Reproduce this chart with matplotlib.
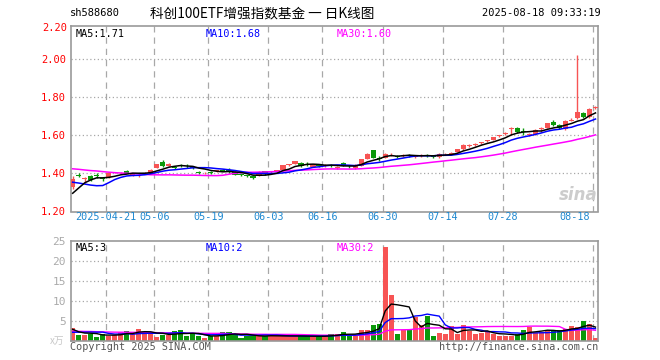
import matplotlib
matplotlib.use('Agg')
import matplotlib.pyplot as plt
import matplotlib.transforms as mtransforms
import numpy as np
import pandas as pd

# daily candles, 2025-04-11 .. 2025-08-18 (88 trading days)
open_ = [1.33, 1.392, 1.372, 1.385, 1.39, 1.375, 1.38, 1.402, 1.40, 1.415,
         1.39, 1.395, 1.40, 1.40, 1.43, 1.458, 1.44, 1.435, 1.445, 1.44,
         1.435, 1.408, 1.40, 1.407, 1.412, 1.42, 1.418, 1.41, 1.393, 1.388,
         1.387, 1.387, 1.413, 1.408, 1.413, 1.418, 1.445, 1.45, 1.455, 1.448,
         1.435, 1.442, 1.44, 1.443, 1.43, 1.457, 1.44, 1.427, 1.44, 1.476,
         1.524, 1.482, 1.483, 1.50, 1.492, 1.49, 1.497, 1.485, 1.493, 1.497,
         1.49, 1.485, 1.50, 1.503, 1.515, 1.527, 1.545, 1.552, 1.56, 1.569,
         1.576, 1.597, 1.608, 1.636, 1.64, 1.622, 1.60, 1.606, 1.636, 1.641,
         1.673, 1.655, 1.633, 1.678, 1.69, 1.72, 1.696, 1.747]
high = [1.385, 1.40, 1.38, 1.39, 1.405, 1.38, 1.405, 1.41, 1.408, 1.418,
        1.40, 1.402, 1.41, 1.425, 1.452, 1.47, 1.455, 1.44, 1.45, 1.45,
        1.44, 1.415, 1.41, 1.412, 1.42, 1.425, 1.428, 1.412, 1.395, 1.39,
        1.39, 1.412, 1.415, 1.415, 1.42, 1.447, 1.452, 1.468, 1.458, 1.458,
        1.452, 1.45, 1.45, 1.45, 1.44, 1.46, 1.445, 1.448, 1.478, 1.506,
        1.526, 1.49, 1.51, 1.506, 1.495, 1.50, 1.503, 1.497, 1.50, 1.505,
        1.495, 1.508, 1.507, 1.512, 1.53, 1.553, 1.553, 1.558, 1.568, 1.578,
        1.593, 1.605, 1.617, 1.642, 1.642, 1.64, 1.615, 1.632, 1.642, 1.666,
        1.68, 1.658, 1.68, 1.69, 2.024, 1.722, 1.742, 1.755]
low = [1.32, 1.38, 1.35, 1.36, 1.375, 1.36, 1.375, 1.40, 1.398, 1.40,
       1.385, 1.38, 1.395, 1.398, 1.428, 1.435, 1.438, 1.425, 1.435, 1.43,
       1.425, 1.395, 1.395, 1.395, 1.41, 1.412, 1.405, 1.39, 1.385, 1.38,
       1.372, 1.385, 1.392, 1.405, 1.41, 1.415, 1.44, 1.448, 1.435, 1.44,
       1.432, 1.432, 1.435, 1.435, 1.425, 1.438, 1.43, 1.425, 1.438, 1.474,
       1.48, 1.465, 1.48, 1.49, 1.483, 1.487, 1.487, 1.48, 1.488, 1.487,
       1.482, 1.482, 1.498, 1.50, 1.512, 1.525, 1.54, 1.545, 1.556, 1.565,
       1.574, 1.592, 1.60, 1.605, 1.615, 1.605, 1.598, 1.604, 1.62, 1.64,
       1.65, 1.635, 1.628, 1.675, 1.685, 1.69, 1.692, 1.74]
close_ = [1.37, 1.388, 1.376, 1.366, 1.386, 1.37, 1.40, 1.405, 1.404, 1.405,
          1.395, 1.398, 1.405, 1.42, 1.45, 1.44, 1.45, 1.43, 1.44, 1.437,
          1.43, 1.405, 1.405, 1.403, 1.416, 1.415, 1.414, 1.392, 1.39, 1.385,
          1.376, 1.41, 1.395, 1.41, 1.416, 1.445, 1.448, 1.465, 1.438, 1.445,
          1.45, 1.44, 1.445, 1.44, 1.435, 1.44, 1.437, 1.445, 1.476, 1.504,
          1.483, 1.478, 1.504, 1.503, 1.487, 1.495, 1.493, 1.494, 1.496, 1.493,
          1.488, 1.505, 1.503, 1.508, 1.527, 1.55, 1.548, 1.555, 1.564, 1.573,
          1.59, 1.60, 1.612, 1.64, 1.62, 1.619, 1.61, 1.629, 1.64, 1.664,
          1.655, 1.638, 1.676, 1.682, 1.725, 1.696, 1.74, 1.75]
# volume, 10k
volume = [3.25, 1.4, 1.4, 1.8, 1.0, 1.6, 1.2, 1.4, 2.2, 2.5,
          1.7, 2.9, 2.0, 2.0, 1.0, 1.4, 1.4, 2.4, 2.7, 1.1,
          1.7, 1.1, 0.7, 1.3, 1.2, 2.2, 2.2, 1.5, 0.8, 1.3,
          1.3, 1.2, 1.2, 1.2, 1.2, 1.2, 1.2, 1.2, 1.1, 1.1,
          1.1, 1.1, 1.2, 1.6, 1.8, 2.2, 1.3, 1.3, 2.7, 2.7,
          3.9, 4.3, 23.5, 11.4, 1.8, 2.6, 2.9, 6.0, 3.9, 6.2,
          1.3, 1.9, 1.6, 3.6, 1.8, 3.9, 2.5, 1.6, 1.9, 2.4,
          1.6, 1.2, 1.3, 1.3, 1.6, 2.7, 3.5, 2.0, 2.2, 2.7,
          2.5, 2.7, 3.0, 3.7, 3.5, 4.9, 4.3, 0.6]

# sessions before the visible window (feed the moving averages)
prior_close = [1.47, 1.48, 1.46, 1.45, 1.47, 1.49, 1.48, 1.46, 1.45, 1.44,
               1.46, 1.47, 1.48, 1.46, 1.45, 1.44, 1.45, 1.46, 1.45, 1.43,
               1.43, 1.43, 1.42, 1.42, 1.36, 1.25, 1.24, 1.29, 1.33]
prior_volume = [2.6, 2.5, 2.4, 2.7, 2.6, 2.5, 2.4, 2.6, 2.5, 2.7,
                2.6, 2.5, 2.4, 2.6, 2.5, 2.6, 2.5, 2.6, 2.5, 2.6,
                1.3, 1.2, 1.4, 1.35, 1.5, 4.5, 3.0, 2.0, 1.5]

tick_days = [6, 14, 23, 33, 42, 52, 62, 72, 87]
tick_labels = ['2025-04-21', '05-06', '05-19', '06-03', '06-16',
               '06-30', '07-14', '07-28', '08-18']
price_ticks = [1.20, 1.40, 1.60, 1.80, 2.00]
vol_ticks = [5, 10, 15, 20, 25]

RED = '#f75454'
GREEN = '#0a990a'
GRID = '#a8a8a8'
MONO = 'DejaVu Sans Mono'
CJK = ['Noto Sans CJK SC', 'DejaVu Sans']
W = 0.86

o = np.array(open_)
c = np.array(close_)
x = np.arange(len(c))
colors = np.where(c >= o, RED, GREEN)

closes = pd.Series(prior_close + close_)
vols = pd.Series(prior_volume + volume)
n0 = len(prior_close)
ma_p = {n: closes.rolling(n).mean().values[n0:] for n in (5, 10, 30)}
ma_v = {n: vols.rolling(n).mean().values[n0:] for n in (5, 10, 30)}
ma_col = {5: 'black', 10: '#0000ff', 30: '#ff00ff'}

fig = plt.figure(figsize=(6.6, 3.6), dpi=100)
ax = fig.add_axes([70.7 / 660, 1 - 211.5 / 360, (598 - 70.7) / 660, (211.5 - 26) / 360])
axv = fig.add_axes([70.7 / 660, 1 - 340.7 / 360, (598 - 70.7) / 660, 100 / 360])

for a in (ax, axv):
    a.set_xlim(0.1, 87.85)
    for s in a.spines.values():
        s.set_color('#999999')
        s.set_linewidth(1.2)
    a.set_xticks(tick_days)
    a.tick_params(length=0)
    for d in tick_days:
        a.axvline(d, color=GRID, lw=0.9, ls=(0, (5, 4)), zorder=0)

# price panel
ax.set_ylim(1.20, 2.176)
ax.set_yticks(price_ticks)
ax.set_yticklabels(['%.2f' % t for t in price_ticks], color='red', family=MONO, fontsize=7.5)
for t in price_ticks[1:]:
    ax.axhline(t, color=GRID, lw=0.9, ls=(0, (1, 2)), zorder=0)
tr = mtransforms.blended_transform_factory(ax.transAxes, ax.transData)
ax.text(-0.006, 2.168, '2.20', transform=tr, ha='right', va='center',
        color='red', family=MONO, fontsize=7.5)

ax.vlines(x + W / 2, low, high, colors=colors, lw=1.0, zorder=2)
ax.bar(x, np.maximum(np.abs(c - o), 0.005), W, bottom=np.minimum(o, c),
       align='edge', color=colors, lw=0, zorder=3)
for n in (30, 10, 5):
    ax.plot(x + W / 2, ma_p[n], color=ma_col[n], lw=1.1, zorder=4)

ax.set_xticklabels([])
for d, lab in zip(tick_days, tick_labels):
    ax.text(d if d != 87 else 86.6, 1.195, lab, ha='center' if d != 87 else 'right',
            va='top', color='#1e88d0', family=MONO, fontsize=7.3)

ax.text(0.009, 0.955, 'MA5:1.71', transform=ax.transAxes, color='black', family=MONO, fontsize=7.3, va='center')
ax.text(0.255, 0.955, 'MA10:1.68', transform=ax.transAxes, color='#0000ff', family=MONO, fontsize=7.3, va='center')
ax.text(0.505, 0.955, 'MA30:1.60', transform=ax.transAxes, color='#ff00ff', family=MONO, fontsize=7.3, va='center')
ax.text(0.962, 0.09, 'sina', transform=ax.transAxes, color='#cccccc', fontsize=12,
        fontweight='bold', style='italic', ha='center', va='center', zorder=1)

# volume panel
axv.set_ylim(0, 25)
axv.set_yticks(vol_ticks)
axv.set_yticklabels([str(t) for t in vol_ticks], color='#aaaaaa', family=MONO, fontsize=8)
for t in vol_ticks[:-1]:
    axv.axhline(t, color=GRID, lw=0.9, ls=(0, (1, 2)), zorder=0)
axv.set_xticklabels([])
axv.bar(x, volume, W, align='edge', color=colors, lw=0, zorder=2)
for n in (30, 10, 5):
    axv.plot(x + W / 2, ma_v[n], color=ma_col[n], lw=1.0, zorder=3)
axv.text(0.009, 0.93, 'MA5:3', transform=axv.transAxes, color='black', family=MONO, fontsize=7.5, va='center')
axv.text(0.255, 0.93, 'MA10:2', transform=axv.transAxes, color='#0000ff', family=MONO, fontsize=7.5, va='center')
axv.text(0.505, 0.93, 'MA30:2', transform=axv.transAxes, color='#ff00ff', family=MONO, fontsize=7.5, va='center')
axv.text(-0.012, 0.0, 'x万', transform=axv.transAxes, color='#c8c8c8', family=CJK,
         fontsize=7, ha='right', va='center')

# header and footer
fig.text(70 / 660, 1 - 13 / 360, 'sh588680', family=MONO, fontsize=7.5, va='center')
fig.text(262 / 660, 1 - 13 / 360, '科创100ETF增强指数基金 一 日K线图', family=CJK,
         fontsize=9.8, ha='center', va='center')
fig.text(601 / 660, 1 - 13 / 360, '2025-08-18 09:33:19', family=MONO, fontsize=7.5,
         ha='right', va='center')
fig.text(70 / 660, 1 - 347 / 360, 'Copyright 2025 SINA.COM', family=MONO, fontsize=7.3,
         color='#555555', va='center')
fig.text(598 / 660, 1 - 347 / 360, 'http://finance.sina.com.cn', family=MONO, fontsize=7.3,
         color='#555555', ha='right', va='center')

fig.savefig('out.png', dpi=100)
